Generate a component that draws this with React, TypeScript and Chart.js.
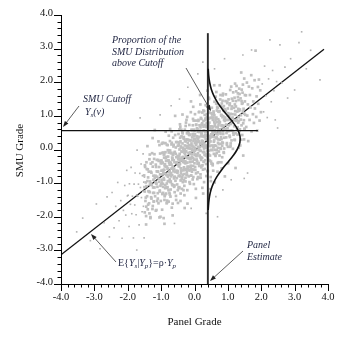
import React, { useEffect, useRef } from 'react';
import { Chart, registerables } from 'chart.js';

Chart.register(...registerables);

const FONT = "'Liberation Serif', 'Times New Roman', Times, serif";

// ---------- axes ----------
const axisMin = -4;
const axisMax = 4;
const majorTicks = [-4, -3, -2, -1, 0, 1, 2, 3, 4];
const tickLabels = ['-4.0', '-3.0', '-2.0', '-1.0', '0.0', '1.0', '2.0', '3.0', '4.0'];
const minorStep = 0.2;
const xTitle = 'Panel Grade';
const yTitle = 'SMU Grade';

// ---------- lines ----------
const regressionX = [-4, 3.88];
const regressionY = [-3.13, 2.98];
const cutoffX = [-4, 1.9];
const cutoffY = [0.56, 0.56];
const panelX = [0.4, 0.4];
const panelY = [-4, 3.46];
const curveY = [-1.8, -1.6, -1.4, -1.2, -1.0, -0.8, -0.6, -0.4, -0.2, 0.0, 0.2, 0.4, 0.6, 0.8, 1.0, 1.2, 1.4, 1.6, 1.8, 2.0, 2.2, 2.4];
const curveX = [0.41, 0.424, 0.449, 0.495, 0.568, 0.676, 0.817, 0.98, 1.144, 1.279, 1.358, 1.362, 1.29, 1.159, 0.997, 0.832, 0.689, 0.578, 0.501, 0.453, 0.425, 0.411];

// ---------- scatter cloud (x, y) ----------
const cloudFarLow = [
  [-3.53,-2.45],[-3.35,-2.04],[-3.12,-2.71],[-2.94,-1.62],[-2.83,-2.95],[-2.71,-2.18],[-2.62,-1.41],[-2.55,-2.6],
  [-2.47,-1.28],[-2.41,-2.33],[-2.36,-1.69],[-2.3,-0.98],[-2.26,-2.12],[-2.21,-1.52],[-2.17,-2.64],[-2.13,-1.81],[-2.09,-1.07],[-2.06,-1.95],[-2.03,-0.62],[-2.01,-1.38],
];
const cloudLow = [
  [-1.99,-1.36],[-1.96,-2.29],[-1.95,-1.02],[-1.92,-1.63],[-1.9,-0.53],[-1.88,-1.91],[-1.86,-1.39],[-1.83,-2.63],[-1.81,-1.03],[-1.79,-1.65],[-1.78,-0.7],[-1.75,-1.94],[-1.73,-1.35],[-1.72,-0.02],[-1.7,-1.39],[-1.68,-1.03],[-1.66,-2.24],[-1.64,-0.71],[-1.63,0.94],[-1.62,-1.13],[-1.6,-0.43],[-1.59,-1.43],[-1.57,-1.85],[-1.56,-0.78],[-1.55,-1.24],[-1.54,-0.13],[-1.53,-1.69],[-1.52,-0.97],[-1.51,-2.63],[-1.5,-0.82],
];
const cloudMidLow = [
  [-1.49,-1.25],[-1.48,-0.52],[-1.47,-1.53],[-1.46,-0.98],[-1.45,-1.98],[-1.44,-1.09],[-1.43,-0.58],[-1.42,-1.39],[-1.41,0.1],[-1.4,-1.78],[-1.39,-0.83],[-1.38,-1.24],[-1.37,-0.66],[-1.36,-1.6],[-1.35,-0.29],[-1.34,-1.27],[-1.33,-0.95],[-1.32,-2.04],[-1.31,-0.42],[-1.3,-1.42],[-1.29,-0.69],[-1.28,-1.06],[-1.27,-0.11],[-1.26,-1.77],[-1.25,-0.51],[-1.24,-1.29],[-1.23,-0.9],[-1.22,-1.55],[-1.21,-0.28],[-1.2,-1.13],[-1.19,0.58],[-1.18,-1.39],[-1.17,-0.78],[-1.16,-1.82],[-1.15,-0.52],[-1.14,-1.02],[-1.13,-0.31],[-1.12,-1.53],[-1.11,-0.65],[-1.1,-1.3],[-1.09,-0.66],[-1.08,-1.6],[-1.07,-0.34],[-1.06,-0.96],[-1.05,0.13],[-1.04,-1.25],[-1.03,-0.74],[-1.02,-2.0],[-1.01,-0.41],[-1.0,-1.03],[-1.485,-0.47],[-1.445,-1.7],[-1.335,-1.04],[-1.255,0.34],[-1.165,-0.97],
];
const cloudCoreLow = [
  [-0.99,-0.33],[-0.98,-0.98],[-0.97,-0.1],[-0.96,-1.32],[-0.95,-0.61],[-0.94,-1.11],[-0.93,0.19],[-0.92,-0.85],[-0.91,-0.24],[-0.9,-2.21],[-0.89,-0.5],[-0.88,-1.35],[-0.87,-0.08],[-0.86,-0.73],[-0.85,-0.34],[-0.84,-1.13],[-0.83,0.14],[-0.82,-1.52],[-0.81,-0.57],[-0.8,-0.94],[-0.79,-0.21],[-0.78,-1.21],[-0.77,0.41],[-0.76,-0.68],[-0.75,-0.37],[-0.74,-1.34],[-0.73,-0.03],[-0.72,-0.97],[-0.71,-0.39],[-0.7,-0.8],[-0.69,0.15],[-0.68,-1.73],[-0.67,-0.24],[-0.66,-1.06],[-0.65,-0.54],[-0.64,0.35],[-0.63,-0.65],[-0.62,-0.1],[-0.61,-1.11],[-0.6,-0.38],[-0.59,-0.81],[-0.58,1.0],[-0.57,-0.67],[-0.56,0.06],[-0.55,-1.5],[-0.54,-0.39],[-0.53,-0.85],[-0.52,0.22],[-0.51,-0.21],[-0.5,-1.21],
  [-0.985,-0.9],[-0.975,-0.41],[-0.965,-1.32],[-0.955,0.2],[-0.945,-1.02],[-0.935,-0.67],[-0.925,-2.04],[-0.915,-0.71],[-0.905,-0.14],[-0.895,-1.39],[-0.885,-0.44],[-0.875,-1.06],[-0.865,0.53],[-0.855,-0.73],[-0.845,-0.22],[-0.835,-1.6],[-0.825,-0.51],[-0.815,-1.14],[-0.805,0.13],[-0.795,-0.81],[-0.785,-0.33],[-0.775,-1.55],[-0.765,-0.03],[-0.755,-0.94],[-0.745,-0.45],[-0.735,0.25],[-0.725,-0.76],[-0.715,-1.19],[-0.705,-0.11],[-0.695,-0.57],[-0.685,0.54],[-0.675,-1.03],[-0.665,-0.3],[-0.655,-1.96],[-0.645,-0.15],[-0.635,-0.59],[-0.625,0.14],[-0.615,-0.86],
];
const cloudCoreMid = [
  [-0.49,-0.19],[-0.48,-1.13],[-0.47,0.13],[-0.46,-0.49],[-0.45,0.6],[-0.44,-0.78],[-0.43,-0.28],[-0.42,-1.53],[-0.41,0.06],[-0.4,-0.56],[-0.39,0.39],[-0.38,-0.87],[-0.37,-0.29],[-0.36,1.04],[-0.35,-0.33],[-0.34,0.01],[-0.33,-1.21],[-0.32,0.32],[-0.31,-0.59],[-0.3,-0.1],[-0.29,0.59],[-0.28,-0.41],[-0.27,-0.84],[-0.26,0.24],[-0.25,-0.23],[-0.24,0.88],[-0.23,-0.68],[-0.22,0.05],[-0.21,-1.61],[-0.2,0.19],[-0.19,-0.24],[-0.18,0.49],[-0.17,-0.51],[-0.16,0.04],[-0.15,-0.97],[-0.14,-0.08],[-0.13,0.44],[-0.12,-0.37],[-0.11,1.11],[-0.1,-0.77],[-0.09,0.18],[-0.08,-0.22],[-0.07,0.36],[-0.06,-0.59],[-0.05,0.72],[-0.04,-0.25],[-0.03,0.07],[-0.02,-1.03],[-0.01,0.59],[0,-0.41],
  [-0.005,0.32],[-0.015,-0.07],[-0.025,0.86],[-0.035,-0.82],[-0.045,0.44],[-0.055,-0.36],[-0.065,0.01],[-0.075,-0.66],[-0.085,0.59],[-0.095,-0.26],[-0.105,1.43],[-0.115,-0.56],[-0.125,0.03],[-0.135,-1.02],[-0.145,0.27],[-0.155,-0.25],[-0.165,0.44],[-0.175,-0.8],[-0.185,0.08],[-0.195,-0.59],[-0.205,0.28],[-0.215,-0.39],[-0.225,0.48],[-0.235,-0.75],[-0.245,-0.06],[-0.255,-0.58],[-0.265,0.7],[-0.275,-0.35],[-0.285,0.25],[-0.295,-1.74],[-0.305,-0.05],[-0.315,-0.91],[-0.325,0.35],[-0.335,-0.32],[-0.345,0.05],[-0.355,-0.75],[-0.365,0.51],[-0.375,-1.17],[-0.385,-0.24],[-0.395,-0.63],[-0.405,0.09],[-0.415,-0.92],[-0.425,0.68],[-0.435,-0.43],[-0.445,-0.13],[-0.455,-1.12],[-0.465,0.18],[-0.475,-0.78],[-0.485,-0.22],[-0.495,-0.64],
  [-0.457,0.21],[-0.303,-1.36],[-0.218,0.97],[-0.122,-0.62],[-0.038,1.27],
];
const cloudCoreHigh = [
  [0.01,-0.02],[0.02,-0.52],[0.03,0.3],[0.04,-1.17],[0.05,0.73],[0.06,-0.2],[0.07,0.22],[0.08,-0.35],[0.09,0.61],[0.1,-0.68],[0.11,0.31],[0.12,0],[0.13,1.11],[0.14,-0.49],[0.15,0.53],[0.16,-0.2],[0.17,0.19],[0.18,-0.74],[0.19,0.94],[0.2,-0.31],[0.21,0.48],[0.22,0.11],[0.23,0.78],[0.24,-0.47],[0.25,0.39],[0.26,-1.31],[0.27,0.68],[0.28,0.09],[0.29,1.14],[0.3,-0.15],[0.31,0.37],[0.32,-0.32],[0.33,0.92],[0.34,0.05],[0.35,0.71],[0.36,0.09],[0.37,1.05],[0.38,-0.2],[0.39,0.43],[0.4,-0.64],[0.41,0.76],[0.42,0.27],[0.43,1.54],[0.44,-0.04],[0.45,0.6],[0.46,-0.33],[0.47,0.94],[0.48,0.37],[0.49,-0.94],[0.5,0.45],
  [0.495,1.08],[0.485,-0.82],[0.475,0.65],[0.465,-0.18],[0.455,0.33],[0.445,1.2],[0.435,0.18],[0.425,0.71],[0.415,-0.31],[0.405,0.41],[0.395,-0.04],[0.385,1.75],[0.375,0.07],[0.365,0.79],[0.355,-0.79],[0.345,0.3],[0.335,-0.18],[0.325,0.88],[0.315,0.44],[0.305,-0.58],[0.295,0.1],[0.285,0.57],[0.275,-0.36],[0.265,1.16],[0.255,-0.08],[0.245,0.25],[0.235,-1.14],[0.225,0.18],[0.215,0.74],[0.205,-0.53],[0.195,0.4],[0.185,-0.24],[0.175,1.34],[0.165,0.07],[0.155,0.56],[0.145,-0.84],[0.135,0.24],[0.125,-0.4],[0.115,0.85],[0.105,-0.11],[0.095,0.35],[0.085,-0.88],[0.075,0.63],[0.065,-0.3],[0.055,0.17],[0.045,0.86],[0.035,-0.16],[0.025,-0.61],[0.015,0.45],[0.005,-0.03],
  [0.043,-1.44],[0.168,1.62],[0.287,-0.97],[0.372,1.31],[0.463,-1.18],
];
const cloudMidHigh = [
  [0.51,-0.42],[0.52,0.6],[0.53,1.04],[0.54,-0.02],[0.55,0.46],[0.56,-0.63],[0.57,0.95],[0.58,0.23],[0.59,1.91],[0.6,0.12],[0.61,0.57],[0.62,-0.15],[0.63,0.87],[0.64,0.34],[0.65,1.36],[0.66,0.49],[0.67,-0.02],[0.68,0.81],[0.69,-0.66],[0.7,1.24],[0.71,0.3],[0.72,0.72],[0.73,0.16],[0.74,1.12],[0.75,-0.18],[0.76,0.81],[0.77,0.51],[0.78,1.62],[0.79,0.02],[0.8,1.03],[0.81,0.31],[0.82,0.7],[0.83,-0.23],[0.84,1.45],[0.85,0.19],[0.86,0.99],[0.87,0.62],[0.88,1.29],[0.89,0.03],[0.9,0.89],[0.91,-0.8],[0.92,1.19],[0.93,0.6],[0.94,1.64],[0.95,0.36],[0.96,0.88],[0.97,0.19],[0.98,1.42],[0.99,0.55],[1.0,1.22],
  [0.885,0.88],[0.875,-0.08],[0.865,1.17],[0.855,0.54],[0.845,1.61],[0.835,0.21],[0.825,0.7],[0.815,-0.56],[0.805,1.01],[0.795,0.37],[0.785,1.3],[0.775,0.04],[0.765,0.6],[0.755,1.91],[0.745,0.52],[0.735,0.85],[0.725,-0.38],[0.715,1.13],[0.705,0.2],[0.695,0.67],[0.685,1.35],[0.675,0.34],[0.665,-0.11],[0.655,0.95],[0.645,0.47],[0.635,1.57],[0.625,-0.01],[0.615,0.7],[0.605,-0.98],[0.595,0.81],[0.585,0.37],[0.575,1.08],[0.565,0.06],[0.555,0.59],[0.545,-0.43],[0.535,0.45],[0.525,0.95],[0.515,0.12],
];
const cloudHigh = [
  [1.01,-0.41],[1.02,1.49],[1.03,0.55],[1.04,0.97],[1.05,0.41],[1.06,1.37],[1.07,0.08],[1.08,1.06],[1.09,0.76],[1.1,1.87],[1.11,0.27],[1.12,1.28],[1.13,0.56],[1.14,0.95],[1.15,0.02],[1.16,1.7],[1.17,0.44],[1.18,1.24],[1.19,0.87],[1.2,1.54],[1.21,0.28],[1.22,1.14],[1.23,-0.55],[1.24,1.44],[1.25,0.85],[1.26,1.89],[1.27,0.61],[1.28,1.13],[1.29,0.44],[1.3,1.67],[1.31,0.8],[1.32,1.47],[1.33,0.85],[1.34,1.81],[1.35,0.55],[1.36,1.19],[1.37,0.12],[1.38,1.52],[1.39,1.02],[1.4,2.29],[1.41,0.72],[1.42,1.36],[1.43,0.43],[1.44,1.69],[1.45,1.13],[1.46,-0.18],[1.47,1.21],[1.48,0.87],[1.49,2.11],[1.5,0.6],
  [1.085,0.18],[1.215,1.96],[1.325,0.05],[1.415,1.78],[1.485,0.3],
  [1.51,1.43],[1.52,1.03],[1.54,1.61],[1.55,0.67],[1.57,1.99],[1.58,1.01],[1.6,1.34],[1.61,0.25],[1.63,1.87],[1.65,0.88],[1.66,1.62],[1.68,1.25],[1.7,2.21],[1.71,0.54],[1.73,1.82],[1.75,1.05],[1.76,1.43],[1.78,0.79],[1.8,2.06],[1.81,1.22],[1.83,2.94],[1.85,0.97],[1.86,1.58],[1.88,0.56],[1.9,1.86],[1.91,1.36],[1.93,2.08],[1.95,0.86],[1.97,1.76],[1.99,1.11],
];
const cloudFarHigh = [
  [2.03,1.95],[2.07,1.12],[2.1,2.48],[2.14,1.6],[2.18,0.95],[2.22,2.1],[2.26,3.26],[2.3,1.42],[2.34,2.35],[2.38,1.75],[2.42,0.88],[2.46,2.02],[2.49,0.64],
  [2.56,3.11],[2.62,1.98],[2.71,2.45],[2.79,1.53],[2.88,2.7],[3.0,1.77],[3.13,3.18],[3.21,3.5],[3.35,2.4],[3.48,2.95],[3.76,2.07],
];
const cloudStray = [
  [1.45,2.81],[1.71,2.96],[-1.03,1.03],[0.69,-2.0],[1.59,-0.7],[1.49,-0.86],[0.64,-1.4],[-1.73,-2.99],
  [-0.2,1.85],[0.1,2.25],[0.25,2.6],[-0.45,1.5],[0.6,2.4],[0.9,2.7],[-0.7,1.3],[0.35,-1.9],[-0.1,-1.75],[-0.6,-2.2],[1.1,-0.9],[0.85,-1.2],
];
const cloudCoreDense = [
  [-1.51,-0.77],[-1.49,-1.87],[-1.5,-1.12],[-1.46,-1.43],[-1.44,-0.38],[-1.45,-2.23],[-1.41,-0.94],[-1.39,-1.64],[-1.4,-0.59],[-1.36,-1.25],[-1.34,-0.15],[-1.35,-1.9],
  [-1.31,-0.66],[-1.29,-1.46],[-1.3,-1.01],[-1.32,-2.01],[-1.26,-0.38],[-1.24,-1.13],[-1.25,-1.68],[-1.23,-0.78],[-1.21,-1.29],[-1.19,-0.84],[-1.2,-0.14],[-1.22,-1.54],[-1.16,-0.45],[-1.14,-1.8],[-1.15,-1.0],[-1.13,-0.65],
  [-1.11,-1.11],[-1.09,-0.31],[-1.1,-1.46],[-1.12,-0.81],[-1.08,0.24],[-1.06,-0.52],[-1.04,-1.22],[-1.05,-2.02],[-1.03,-0.12],[-1.07,-0.87],[-1.01,-1.53],[-0.99,-0.63],[-1.0,-0.33],[-1.02,-1.08],[-0.98,0.17],[-0.96,-0.74],[-0.94,-1.29],[-0.95,-0.39],[-0.97,-1.79],[-0.93,-0.09],
  [-0.91,-0.9],[-0.89,-0.45],[-0.9,-1.5],[-0.92,-0.15],[-0.88,-1.15],[-0.905,-0.6],[-0.86,-0.26],[-0.84,-0.76],[-0.85,-1.31],[-0.87,0.19],[-0.83,-1.01],[-0.855,-0.51],[-0.81,-1.12],[-0.79,-0.57],[-0.8,-0.02],[-0.82,-1.57],[-0.78,-0.32],[-0.805,-0.77],
  [-0.76,-0.39],[-0.74,-0.89],[-0.75,-1.29],[-0.77,-0.09],[-0.73,0.61],[-0.745,-0.64],[-0.71,-0.95],[-0.69,-0.45],[-0.7,-0.1],[-0.72,-1.4],[-0.68,0.2],[-0.705,-0.7],
  [-0.66,-0.26],[-0.64,-1.06],[-0.65,-0.51],[-0.67,-0.76],[-0.63,0.09],[-0.655,-1.61],[-0.645,-0.16],[-0.61,-0.57],[-0.59,-0.07],[-0.6,-1.07],[-0.62,-0.32],[-0.58,0.43],[-0.605,-0.82],[-0.595,-1.27],
  [-0.56,-0.13],[-0.54,-0.63],[-0.55,0.22],[-0.57,-0.93],[-0.53,-0.38],[-0.555,-1.38],[-0.545,-0.23],[-0.51,-0.69],[-0.49,-0.29],[-0.5,0.11],[-0.52,-1.04],[-0.48,0.46],[-0.505,-0.44],[-0.495,-1.59],
  [-0.46,-0.2],[-0.44,-0.8],[-0.45,0.0],[-0.47,-0.5],[-0.43,0.35],[-0.455,-1.15],[-0.445,-0.35],[-0.435,0.75],
  [-0.41,-0.56],[-0.39,-0.06],[-0.4,-0.91],[-0.42,0.24],[-0.38,-0.31],[-0.405,-0.71],[-0.395,0.59],[-0.415,-1.31],
  [-0.36,0.18],[-0.34,-0.37],[-0.35,-0.97],[-0.37,-0.07],[-0.33,-0.62],[-0.355,0.48],[-0.345,-0.22],[-0.365,-0.82],
  [-0.31,-0.38],[-0.29,0.12],[-0.3,-0.73],[-0.32,0.37],[-0.28,-0.13],[-0.305,-1.08],[-0.295,0.02],[-0.315,-0.53],
  [-0.26,-0.2],[-0.24,0.3],[-0.25,-0.6],[-0.27,-0.95],[-0.23,0.1],[-0.255,0.8],[-0.245,-0.4],[-0.265,-0.05],
  [-0.21,-0.51],[-0.19,0.04],[-0.2,0.54],[-0.22,-0.76],[-0.18,-0.11],[-0.205,-0.26],[-0.195,0.29],[-0.215,-1.21],
  [-0.16,0.13],[-0.14,-0.37],[-0.15,0.43],[-0.17,-0.62],[-0.13,-0.12],[-0.155,0.73],[-0.145,-0.27],[-0.165,0.28],
  [-0.11,-0.48],[-0.09,0.02],[-0.1,0.27],[-0.12,-0.28],[-0.08,0.57],[-0.105,-0.78],[-0.095,0.12],[-0.115,-0.13],
  [-0.06,0.11],[-0.04,-0.49],[-0.05,0.46],[-0.07,-0.14],[-0.03,0.26],[-0.055,-0.89],[-0.045,0.91],[-0.065,-0.04],
  [-0.01,-0.3],[0.01,0.2],[0,0.55],[-0.02,-0.6],[0.02,0.05],[0.005,-0.15],[-0.005,0.4],[0.015,1.05],
  [0.04,0.14],[0.06,-0.31],[0.05,0.74],[0.03,-0.01],[0.07,0.39],[0.045,-0.71],[0.055,0.24],[0.035,-0.16],
  [0.09,-0.42],[0.11,0.08],[0.1,0.53],[0.08,-0.17],[0.12,0.88],[0.095,0.23],[0.105,-0.82],[0.085,0.38],
  [0.14,0.37],[0.16,-0.03],[0.15,0.72],[0.13,-0.43],[0.17,0.17],[0.145,1.12],[0.155,-0.18],[0.135,0.52],
  [0.19,-0.04],[0.21,0.46],[0.2,-0.49],[0.18,0.66],[0.22,0.26],[0.195,-0.24],[0.205,0.91],[0.185,-0.84],
  [0.24,0.55],[0.26,0.1],[0.25,0.2],[0.23,-0.25],[0.27,0.85],[0.245,0.4],[0.255,-0.6],[0.235,1.1],
  [0.29,-0.07],[0.31,0.38],[0.3,0.73],[0.28,-0.37],[0.32,0.53],[0.295,0.18],[0.305,1.03],[0.285,0.03],
  [0.34,0.32],[0.36,-0.13],[0.35,0.67],[0.33,0.12],[0.37,0.97],[0.345,-0.43],[0.355,0.52],[0.335,1.32],
  [0.39,0.11],[0.41,0.66],[0.4,-0.24],[0.38,0.41],[0.42,0.91],[0.395,-0.04],[0.405,0.31],[0.385,-0.64],
  [0.44,0.65],[0.46,0.1],[0.45,1.1],[0.43,-0.15],[0.47,0.4],[0.445,0.8],[0.455,0.25],[0.435,1.5],
  [0.49,-0.01],[0.51,0.59],[0.5,0.94],[0.48,0.24],[0.52,1.24],[0.495,-0.36],[0.505,0.69],
  [0.54,0.53],[0.56,0.08],[0.55,0.88],[0.53,0.38],[0.57,1.13],[0.545,-0.47],[0.555,0.68],
  [0.59,0.27],[0.61,0.77],[0.6,1.42],[0.58,-0.13],[0.62,0.52],[0.595,1.02],[0.605,0.12],
  [0.64,0.91],[0.66,0.36],[0.65,0.66],[0.63,-0.19],[0.67,1.16],[0.645,0.11],[0.655,1.71],
  [0.69,0.45],[0.71,0.9],[0.7,0.05],[0.68,1.25],[0.72,0.6],[0.695,-0.4],[0.74,0.79],[0.76,0.29],[0.75,1.14],[0.73,-0.06],[0.77,1.49],[0.745,0.59],
  [0.79,0.17],[0.81,0.72],[0.8,1.02],[0.78,0.47],[0.82,1.37],[0.805,-0.38],[0.84,0.96],[0.86,0.46],[0.85,1.26],[0.83,0.11],[0.87,0.71],[0.855,1.66],
  [0.89,0.35],[0.91,0.85],[0.9,1.2],[0.88,-0.1],[0.92,0.95],[0.905,0.6],[0.94,1.14],[0.96,0.49],[0.95,0.74],[0.93,1.44],[0.97,0.14],
  [0.99,0.63],[1.01,1.08],[1.0,0.08],[0.98,1.38],[1.02,0.88],[1.04,1.02],[1.06,0.37],[1.05,1.32],[1.03,0.72],[1.07,1.77],
  [1.09,0.56],[1.11,1.21],[1.1,0.91],[1.08,0.11],[1.12,1.51],[1.14,1.05],[1.16,0.5],[1.15,1.45],[1.13,0.8],[1.19,0.69],[1.21,1.34],[1.2,0.29],[1.22,1.04],
  [1.24,1.28],[1.26,0.88],[1.25,1.73],[1.23,0.48],[1.29,0.66],[1.31,1.21],[1.3,1.56],[1.32,0.96],[1.34,1.15],[1.36,0.6],[1.35,1.65],
  [1.39,0.89],[1.41,1.44],[1.4,0.29],[1.44,1.38],[1.46,0.78],[1.45,1.93],[1.49,1.07],[1.51,1.62],[1.5,0.62],
];

const cloudOuter = [...cloudFarLow, ...cloudLow, ...cloudFarHigh, ...cloudStray];
const cloudInner = [
  ...cloudMidLow, ...cloudCoreLow, ...cloudCoreMid, ...cloudCoreHigh,
  ...cloudMidHigh, ...cloudHigh, ...cloudCoreDense,
];

const toPts = (xs: number[], ys: number[]) => xs.map((x, i) => ({ x, y: ys[i] }));

type Part = { t: string; it?: boolean; sub?: boolean };

function drawRich(ctx: CanvasRenderingContext2D, x: number, y: number, parts: Part[], size: number) {
  let cx = x;
  for (const p of parts) {
    const fs = p.sub ? size * 0.7 : size;
    ctx.font = `${p.it ? 'italic ' : ''}${fs}px ${FONT}`;
    ctx.fillText(p.t, cx, p.sub ? y + 3 : y);
    cx += ctx.measureText(p.t).width;
  }
}

function drawArrow(ctx: CanvasRenderingContext2D, x1: number, y1: number, x2: number, y2: number) {
  const a = Math.atan2(y2 - y1, x2 - x1);
  const hl = 6;
  const hw = 2.2;
  ctx.beginPath();
  ctx.moveTo(x1, y1);
  ctx.lineTo(x2 - Math.cos(a) * hl * 0.8, y2 - Math.sin(a) * hl * 0.8);
  ctx.stroke();
  ctx.beginPath();
  ctx.moveTo(x2, y2);
  ctx.lineTo(x2 - Math.cos(a) * hl - Math.sin(a) * hw, y2 - Math.sin(a) * hl + Math.cos(a) * hw);
  ctx.lineTo(x2 - Math.cos(a) * hl + Math.sin(a) * hw, y2 - Math.sin(a) * hl - Math.cos(a) * hw);
  ctx.closePath();
  ctx.fill();
}

const decorPlugin = {
  id: 'decor',
  afterDatasetsDraw(chart: any) {
    const ctx: CanvasRenderingContext2D = chart.ctx;
    const xs = chart.scales.x;
    const ys = chart.scales.y;
    const { left, right, top, bottom } = chart.chartArea;
    ctx.save();
    ctx.strokeStyle = '#000';
    ctx.lineWidth = 1;
    ctx.beginPath();
    ctx.moveTo(left + 0.5, top);
    ctx.lineTo(left + 0.5, bottom + 0.5);
    ctx.lineTo(right + 0.5, bottom + 0.5);
    const nMinor = Math.round((axisMax - axisMin) / minorStep);
    for (let i = 0; i <= nMinor; i++) {
      const v = axisMin + i * minorStep;
      const major = i % 5 === 0;
      const len = major ? 7 : 3.5;
      const px = Math.round(xs.getPixelForValue(v)) + 0.5;
      ctx.moveTo(px, bottom);
      ctx.lineTo(px, bottom + len);
      const py = Math.round(ys.getPixelForValue(v)) + 0.5;
      ctx.moveTo(left, py);
      ctx.lineTo(left - len, py);
    }
    ctx.stroke();

    ctx.fillStyle = '#111';
    ctx.font = `10.5px ${FONT}`;
    ctx.textBaseline = 'middle';
    majorTicks.forEach((v, i) => {
      ctx.textAlign = 'center';
      ctx.fillText(tickLabels[i], xs.getPixelForValue(v), bottom + 13);
      ctx.textAlign = 'right';
      ctx.fillText(tickLabels[i], left - 8, ys.getPixelForValue(v) - 2);
    });

    ctx.font = `11px ${FONT}`;
    ctx.textAlign = 'center';
    ctx.fillText(xTitle, (left + right) / 2, bottom + 38);
    ctx.save();
    ctx.translate(20, (top + bottom) / 2 + 1);
    ctx.rotate(-Math.PI / 2);
    ctx.fillText(yTitle, 0, 0);
    ctx.restore();

    // annotations
    ctx.fillStyle = '#1e2340';
    ctx.textAlign = 'left';
    ctx.textBaseline = 'middle';
    const ital = `italic 10px ${FONT}`;
    ctx.font = ital;
    ctx.fillText('Proportion of the', 112, 40);
    ctx.fillText('SMU Distribution', 112, 52);
    ctx.fillText('above Cutoff', 112, 63);
    ctx.fillText('SMU Cutoff', 83, 99);
    drawRich(ctx, 85, 112, [{ t: 'Y', it: true }, { t: 's', it: true, sub: true }, { t: '(v)', it: true }], 10);
    ctx.font = ital;
    ctx.fillText('Panel', 247, 245);
    ctx.fillText('Estimate', 247, 257);
    drawRich(ctx, 118, 263, [
      { t: 'E{' }, { t: 'Y', it: true }, { t: 's', it: true, sub: true }, { t: '|' },
      { t: 'Y', it: true }, { t: 'p', it: true, sub: true }, { t: '}=ρ·' },
      { t: 'Y', it: true }, { t: 'p', it: true, sub: true },
    ], 10);

    ctx.strokeStyle = '#333';
    ctx.fillStyle = '#222';
    ctx.lineWidth = 0.8;
    drawArrow(ctx, 79, 106, 63, 127);
    drawArrow(ctx, 186, 68, 211, 111);
    drawArrow(ctx, 116, 262, 91, 234);
    drawArrow(ctx, 243, 251, 210, 281);
    ctx.restore();
  },
};

export default function App() {
  const ref = useRef<HTMLCanvasElement | null>(null);
  useEffect(() => {
    if (!ref.current) return;
    const chart = new Chart(ref.current, {
      type: 'scatter',
      data: {
        datasets: [
          {
            label: 'regression',
            data: toPts(regressionX, regressionY),
            showLine: true,
            borderColor: '#111',
            borderWidth: 1.3,
            pointRadius: 0,
            order: 4,
          },
          {
            label: 'blocks (outer)',
            data: cloudOuter.map(([x, y]) => ({ x, y })),
            pointStyle: 'rect',
            pointRadius: 1.15,
            pointBorderWidth: 0,
            backgroundColor: '#b3b3b3',
            borderColor: '#b3b3b3',
            order: 3,
          },
          {
            label: 'blocks (core)',
            data: cloudInner.map(([x, y]) => ({ x, y })),
            pointStyle: 'rect',
            pointRadius: 1.9,
            pointBorderWidth: 0,
            backgroundColor: '#c0c0c0',
            borderColor: '#c0c0c0',
            order: 2,
          },
          {
            label: 'cutoff',
            data: toPts(cutoffX, cutoffY),
            showLine: true,
            borderColor: '#111',
            borderWidth: 1.4,
            pointRadius: 0,
            order: 1,
          },
          {
            label: 'panel',
            data: toPts(panelX, panelY),
            showLine: true,
            borderColor: '#2a2a2a',
            borderWidth: 1.9,
            pointRadius: 0,
            order: 1,
          },
          {
            label: 'distribution',
            data: toPts(curveX, curveY),
            showLine: true,
            borderColor: '#111',
            borderWidth: 1.6,
            pointRadius: 0,
            tension: 0.4,
            order: 0,
          },
        ],
      },
      options: {
        animation: false,
        responsive: false,
        devicePixelRatio: 1,
        layout: { padding: { left: 61, right: 34, top: 15, bottom: 56 } },
        plugins: { legend: { display: false }, tooltip: { enabled: false } },
        scales: {
          x: { type: 'linear', min: axisMin, max: axisMax, display: false },
          y: { type: 'linear', min: axisMin, max: axisMax, display: false },
        },
      },
      plugins: [decorPlugin],
    } as any);
    return () => chart.destroy();
  }, []);
  return (
    <div style={{ position: 'absolute', left: 0, top: 0, width: 362, height: 340, background: '#fff' }}>
      <canvas ref={ref} width={362} height={340} style={{ display: 'block' }} />
    </div>
  );
}
